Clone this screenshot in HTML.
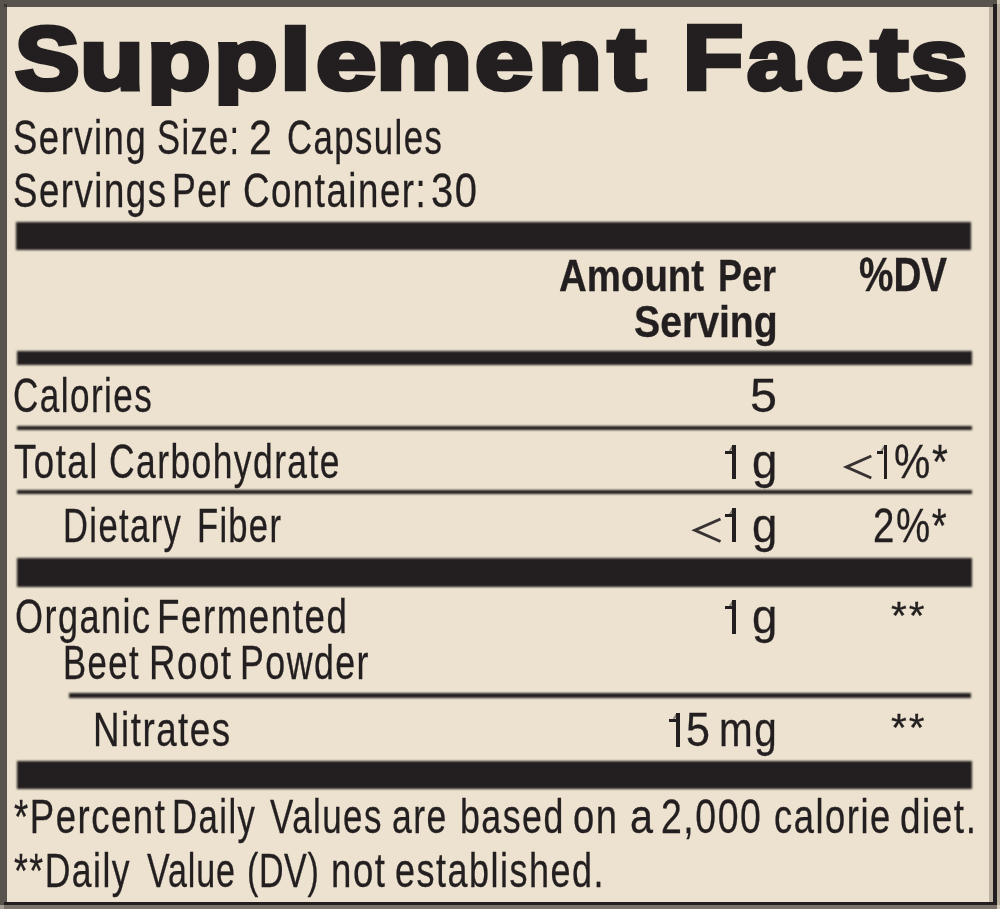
<!DOCTYPE html>
<html><head><meta charset="utf-8"><style>
html,body{margin:0;padding:0;}
body{width:1000px;height:909px;position:relative;overflow:hidden;background:#ece2cf;font-family:"Liberation Sans",sans-serif;color:#231f20;}
.r{position:absolute;}
.tblur{position:absolute;left:0;top:0;width:1000px;height:909px;filter:blur(0.6px);}
.gblur{position:absolute;left:0;top:0;width:1000px;height:909px;filter:blur(0.7px);}
.blur{position:absolute;left:0;top:0;width:1000px;height:909px;filter:blur(0.9px);}
.t{position:absolute;white-space:nowrap;transform-origin:0 0;-webkit-text-stroke:0.3px #231f20;}
.g{position:absolute;white-space:nowrap;font-weight:bold;font-size:86px;line-height:86px;-webkit-text-stroke:4.5px #231f20;}
</style></head><body>
<div class="r" style="left:0.00px;top:0.00px;width:1000.00px;height:909.00px;background:#b9af9f"></div>
<div class="r" style="left:0.00px;top:0.00px;width:996.50px;height:905.00px;background:#ece2cf"></div>
<div class="r" style="left:0.00px;top:0.00px;width:6.90px;height:905.00px;background:#58534d"></div>
<div class="r" style="left:0.00px;top:0.00px;width:996.50px;height:6.90px;background:#58534d"></div>
<div class="r" style="left:989.30px;top:6.90px;width:3.70px;height:894.90px;background:#bdb3a2"></div>
<div class="r" style="left:993.00px;top:4.00px;width:3.50px;height:901.00px;background:#231f20"></div>
<div class="r" style="left:4.00px;top:901.80px;width:992.50px;height:3.20px;background:#231f20"></div>
<div class="r" style="left:0.00px;top:905.00px;width:1000.00px;height:4.00px;background:#7b736a"></div>
<div class="r" style="left:0.00px;top:905.00px;width:4.00px;height:4.00px;background:#a39c90"></div>
<div class="r" style="left:996.50px;top:905.00px;width:3.50px;height:4.00px;background:#d6cebe"></div>
<div class="r" style="left:996.50px;top:0.00px;width:3.50px;height:4.00px;background:#cfc7b7"></div>
<div class="r" style="left:4.00px;top:4.00px;width:2.90px;height:2.90px;background:#3a3632"></div>
<div class="blur"><div class="r" style="left:16.20px;top:221.80px;width:955.30px;height:28.70px;background:#231f20"></div>
<div class="r" style="left:17.00px;top:350.80px;width:954.50px;height:14.00px;background:#231f20"></div>
<div class="r" style="left:17.00px;top:426.10px;width:954.50px;height:4.40px;background:#231f20"></div>
<div class="r" style="left:17.00px;top:489.60px;width:954.50px;height:4.60px;background:#231f20"></div>
<div class="r" style="left:17.00px;top:558.40px;width:954.50px;height:28.90px;background:#231f20"></div>
<div class="r" style="left:68.60px;top:693.10px;width:902.90px;height:4.80px;background:#231f20"></div>
<div class="r" style="left:17.00px;top:761.30px;width:954.50px;height:28.20px;background:#231f20"></div></div>
<div class="gblur"><div class="g" style="left:14.73px;top:16.04px;transform-origin:0 72.81px;transform:scale(1.1247,1.0445)">S</div>
<div class="g" style="left:80.25px;top:16.16px;transform-origin:0 72.81px;transform:scale(1.2164,0.9898)">u</div>
<div class="g" style="left:146.85px;top:16.17px;transform-origin:0 72.81px;transform:scale(1.2123,0.9855)">p</div>
<div class="g" style="left:213.85px;top:16.17px;transform-origin:0 72.81px;transform:scale(1.2123,0.9855)">p</div>
<div class="g" style="left:280.14px;top:16.14px;transform-origin:0 72.81px;transform:scale(1.2898,0.9993)">l</div>
<div class="g" style="left:315.61px;top:16.16px;transform-origin:0 72.81px;transform:scale(1.2598,0.9888)">e</div>
<div class="g" style="left:375.69px;top:16.18px;transform-origin:0 72.81px;transform:scale(1.2581,0.9812)">m</div>
<div class="g" style="left:474.66px;top:16.16px;transform-origin:0 72.81px;transform:scale(1.2164,0.9888)">e</div>
<div class="g" style="left:537.83px;top:16.18px;transform-origin:0 72.81px;transform:scale(1.2164,0.9812)">n</div>
<div class="g" style="left:607.61px;top:16.04px;transform-origin:0 72.81px;transform:scale(1.3194,1.0434)">t</div>
<div class="g" style="left:682.98px;top:16.02px;transform-origin:0 72.81px;transform:scale(1.1434,1.0492)">F</div>
<div class="g" style="left:746.73px;top:16.16px;transform-origin:0 72.81px;transform:scale(1.0908,0.9888)">a</div>
<div class="g" style="left:805.69px;top:16.16px;transform-origin:0 72.81px;transform:scale(1.1836,0.9888)">c</div>
<div class="g" style="left:870.57px;top:16.04px;transform-origin:0 72.81px;transform:scale(1.2872,1.0434)">t</div>
<div class="g" style="left:910.09px;top:16.16px;transform-origin:0 72.81px;transform:scale(1.2014,0.9871)">s</div>
<div class="r" style="left:150.00px;top:105.80px;width:130.00px;height:8.20px;background:#ece2cf"></div></div>
<div class="tblur"><div class="t" style="left:13.36px;top:112.82px;font-size:48.69px;line-height:49px;transform:scaleX(0.7494);letter-spacing:2.000px">Serving</div>
<div class="t" style="left:157.19px;top:112.82px;font-size:48.69px;line-height:49px;transform:scaleX(0.7100);letter-spacing:1.883px">Size:</div>
<div class="t" style="left:249.19px;top:112.82px;font-size:48.69px;line-height:49px;transform:scaleX(0.8444);letter-spacing:0.000px">2</div>
<div class="t" style="left:286.98px;top:112.82px;font-size:48.69px;line-height:49px;transform:scaleX(0.7132);letter-spacing:2.000px">Capsules</div>
<div class="t" style="left:13.35px;top:166.12px;font-size:48.69px;line-height:49px;transform:scaleX(0.7518);letter-spacing:2.000px">Servings</div>
<div class="t" style="left:172.07px;top:166.12px;font-size:48.69px;line-height:49px;transform:scaleX(0.7334);letter-spacing:2.000px">Per</div>
<div class="t" style="left:243.13px;top:166.12px;font-size:48.69px;line-height:49px;transform:scaleX(0.7529);letter-spacing:2.000px">Container:</div>
<div class="t" style="left:430.98px;top:166.12px;font-size:48.69px;line-height:49px;transform:scaleX(0.8207);letter-spacing:2.000px">30</div>
<div class="t" style="left:559.04px;top:252.88px;font-size:45.06px;line-height:45px;transform:scaleX(0.8530);letter-spacing:0.000px;font-weight:bold">Amount</div>
<div class="t" style="left:717.59px;top:252.88px;font-size:45.06px;line-height:45px;transform:scaleX(0.7978);letter-spacing:0.000px;font-weight:bold">Per</div>
<div class="t" style="left:633.86px;top:299.38px;font-size:45.06px;line-height:45px;transform:scaleX(0.8698);letter-spacing:0.000px;font-weight:bold">Serving</div>
<div class="t" style="left:858.53px;top:251.37px;font-size:47.97px;line-height:48px;transform:scaleX(0.8066);letter-spacing:0.000px;font-weight:bold">%DV</div>
<div class="t" style="left:13.41px;top:371.02px;font-size:48.69px;line-height:49px;transform:scaleX(0.7209);letter-spacing:2.000px">Calories</div>
<div class="t" style="left:750.06px;top:371.02px;font-size:48.69px;line-height:49px;transform:scaleX(0.9965);letter-spacing:0.000px">5</div>
<div class="t" style="left:14.20px;top:437.42px;font-size:48.69px;line-height:49px;transform:scaleX(0.7511);letter-spacing:2.000px">Total</div>
<div class="t" style="left:109.44px;top:437.42px;font-size:48.69px;line-height:49px;transform:scaleX(0.7271);letter-spacing:2.000px">Carbohydrate</div>
<div class="t" style="left:752.09px;top:437.42px;font-size:48.69px;line-height:49px;transform:scaleX(0.9356);letter-spacing:0.000px">g</div>
<div class="t" style="left:893.53px;top:437.42px;font-size:48.69px;line-height:49px;transform:scaleX(0.8380);letter-spacing:2.000px">%*</div>
<div class="t" style="left:63.42px;top:501.12px;font-size:48.69px;line-height:49px;transform:scaleX(0.7100);letter-spacing:1.967px">Dietary</div>
<div class="t" style="left:197.17px;top:501.12px;font-size:48.69px;line-height:49px;transform:scaleX(0.7100);letter-spacing:1.808px">Fiber</div>
<div class="t" style="left:752.09px;top:501.12px;font-size:48.69px;line-height:49px;transform:scaleX(0.9356);letter-spacing:0.000px">g</div>
<div class="t" style="left:872.68px;top:501.12px;font-size:48.69px;line-height:49px;transform:scaleX(0.7892);letter-spacing:2.000px">2%*</div>
<div class="t" style="left:14.56px;top:591.62px;font-size:48.69px;line-height:49px;transform:scaleX(0.7406);letter-spacing:2.000px">Organic</div>
<div class="t" style="left:156.98px;top:591.62px;font-size:48.69px;line-height:49px;transform:scaleX(0.7552);letter-spacing:2.000px">Fermented</div>
<div class="t" style="left:752.09px;top:591.62px;font-size:48.69px;line-height:49px;transform:scaleX(0.9356);letter-spacing:0.000px">g</div>
<div class="t" style="left:891.05px;top:595.90px;font-size:39.24px;line-height:39px;transform:scaleX(1.0327);letter-spacing:2.000px">**</div>
<div class="t" style="left:891.05px;top:707.90px;font-size:39.24px;line-height:39px;transform:scaleX(1.0327);letter-spacing:2.000px">**</div>
<div class="t" style="left:63.41px;top:638.02px;font-size:48.69px;line-height:49px;transform:scaleX(0.7120);letter-spacing:2.000px">Beet</div>
<div class="t" style="left:149.49px;top:638.02px;font-size:48.69px;line-height:49px;transform:scaleX(0.7536);letter-spacing:2.000px">Root</div>
<div class="t" style="left:239.57px;top:638.02px;font-size:48.69px;line-height:49px;transform:scaleX(0.7338);letter-spacing:2.000px">Powder</div>
<div class="t" style="left:92.99px;top:705.22px;font-size:48.69px;line-height:49px;transform:scaleX(0.7545);letter-spacing:2.000px">Nitrates</div>
<div class="t" style="left:685.88px;top:705.22px;font-size:48.69px;line-height:49px;transform:scaleX(0.8839);letter-spacing:0.000px">5</div>
<div class="t" style="left:719.03px;top:705.22px;font-size:48.69px;line-height:49px;transform:scaleX(0.8309);letter-spacing:2.000px">mg</div>
<div class="t" style="left:14.42px;top:793.37px;font-size:47.97px;line-height:48px;transform:scaleX(0.7618);letter-spacing:2.000px">*Percent</div>
<div class="t" style="left:172.15px;top:793.37px;font-size:47.97px;line-height:48px;transform:scaleX(0.7233);letter-spacing:2.000px">Daily</div>
<div class="t" style="left:269.86px;top:793.37px;font-size:47.97px;line-height:48px;transform:scaleX(0.7277);letter-spacing:2.000px">Values</div>
<div class="t" style="left:392.26px;top:793.37px;font-size:47.97px;line-height:48px;transform:scaleX(0.7408);letter-spacing:2.000px">are</div>
<div class="t" style="left:460.21px;top:793.37px;font-size:47.97px;line-height:48px;transform:scaleX(0.7452);letter-spacing:2.000px">based</div>
<div class="t" style="left:573.39px;top:793.37px;font-size:47.97px;line-height:48px;transform:scaleX(0.7967);letter-spacing:2.000px">on</div>
<div class="t" style="left:629.51px;top:793.37px;font-size:47.97px;line-height:48px;transform:scaleX(0.8619);letter-spacing:0.000px">a</div>
<div class="t" style="left:660.63px;top:793.37px;font-size:47.97px;line-height:48px;transform:scaleX(0.7798);letter-spacing:2.000px">2,000</div>
<div class="t" style="left:774.37px;top:793.37px;font-size:47.97px;line-height:48px;transform:scaleX(0.7581);letter-spacing:2.000px">calorie</div>
<div class="t" style="left:900.45px;top:793.37px;font-size:47.97px;line-height:48px;transform:scaleX(0.7694);letter-spacing:2.000px">diet.</div>
<div class="t" style="left:14.43px;top:846.87px;font-size:47.97px;line-height:48px;transform:scaleX(0.7415);letter-spacing:2.000px">**Daily</div>
<div class="t" style="left:147.36px;top:846.87px;font-size:47.97px;line-height:48px;transform:scaleX(0.7100);letter-spacing:1.170px">Value</div>
<div class="t" style="left:246.64px;top:846.87px;font-size:47.97px;line-height:48px;transform:scaleX(0.7100);letter-spacing:0.816px">(DV)</div>
<div class="t" style="left:331.33px;top:846.87px;font-size:47.97px;line-height:48px;transform:scaleX(0.7630);letter-spacing:2.000px">not</div>
<div class="t" style="left:394.74px;top:846.87px;font-size:47.97px;line-height:48px;transform:scaleX(0.7501);letter-spacing:2.000px">established.</div>
<div class="r" style="left:732.10px;top:444.50px;width:3.7px;height:34.10px;background:#231f20"></div>
<div class="r" style="left:725.10px;top:450.80px;width:7.00px;height:3.1px;background:#231f20"></div>
<svg class="r" style="left:0;top:0" width="1000" height="909"><line x1="729.90" y1="451.00" x2="733.30" y2="445.50" stroke="#231f20" stroke-width="2" stroke-opacity=".5"/></svg>
<div class="r" style="left:732.20px;top:508.00px;width:3.7px;height:34.30px;background:#231f20"></div>
<div class="r" style="left:725.20px;top:514.30px;width:7.00px;height:3.1px;background:#231f20"></div>
<svg class="r" style="left:0;top:0" width="1000" height="909"><line x1="730.00" y1="514.50" x2="733.40" y2="509.00" stroke="#231f20" stroke-width="2" stroke-opacity=".5"/></svg>
<div class="r" style="left:732.20px;top:599.50px;width:3.7px;height:34.30px;background:#231f20"></div>
<div class="r" style="left:725.20px;top:605.80px;width:7.00px;height:3.1px;background:#231f20"></div>
<svg class="r" style="left:0;top:0" width="1000" height="909"><line x1="730.00" y1="606.00" x2="733.40" y2="600.50" stroke="#231f20" stroke-width="2" stroke-opacity=".5"/></svg>
<div class="r" style="left:883.50px;top:445.00px;width:3.7px;height:33.60px;background:#231f20"></div>
<div class="r" style="left:876.90px;top:451.30px;width:6.60px;height:3.1px;background:#231f20"></div>
<svg class="r" style="left:0;top:0" width="1000" height="909"><line x1="881.30" y1="451.50" x2="884.70" y2="446.00" stroke="#231f20" stroke-width="2" stroke-opacity=".5"/></svg>
<div class="r" style="left:676.00px;top:712.50px;width:3.7px;height:34.20px;background:#231f20"></div>
<div class="r" style="left:668.80px;top:718.80px;width:7.20px;height:3.1px;background:#231f20"></div>
<svg class="r" style="left:0;top:0" width="1000" height="909"><line x1="673.80" y1="719.00" x2="677.20" y2="713.50" stroke="#231f20" stroke-width="2" stroke-opacity=".5"/></svg>
<svg class="r" style="left:0;top:0" width="1000" height="909"><polyline points="871.3,456 846.5,467.0 871.3,478" fill="none" stroke="#231f20" stroke-width="3" stroke-opacity=".9" stroke-linecap="butt" stroke-linejoin="miter"/></svg>
<svg class="r" style="left:0;top:0" width="1000" height="909"><polyline points="720.5,519 695,530.25 720.5,541.5" fill="none" stroke="#231f20" stroke-width="3" stroke-opacity=".9" stroke-linecap="butt" stroke-linejoin="miter"/></svg></div>
</body></html>
